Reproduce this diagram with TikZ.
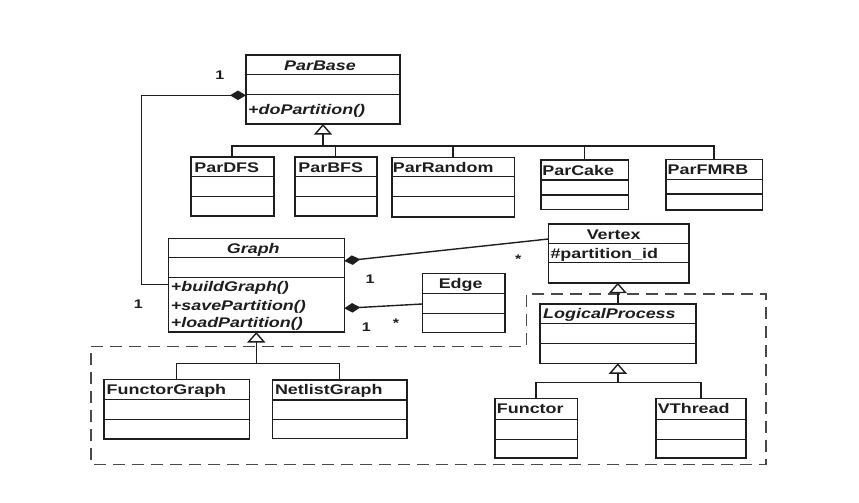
\documentclass[tikz,border=0pt]{standalone}
\usepackage{fontspec}
\setmainfont[FakeStretch=1.28]{Liberation Sans}
\usetikzlibrary{arrows.meta,calc}
\definecolor{ink}{HTML}{1E1E1E}
\definecolor{dashgray}{HTML}{4A4A4A}

% class box: name, x1, y1, x2, y2, first separator y, second separator y
\newcommand\umlclass[7]{%
  \node[cbox, anchor=north west,
        minimum width={(#4-#2)*1pt}, minimum height={(#5-#3)*1pt}] (#1) at (#2,#3) {};
  \draw[cline] (#1.west |- 0,#6) -- (#1.east |- 0,#6);
  \draw[cline] (#1.west |- 0,#7) -- (#1.east |- 0,#7);
}

\begin{document}
\begin{tikzpicture}[x=1pt,y=-1pt,
  cbox/.style={rectangle, draw=ink, line width=1.6pt, fill=white, inner sep=0pt, outer sep=0pt},
  cline/.style={draw=ink, line width=1.5pt},
  ctext/.style={inner sep=0pt, text=ink, font=\fontsize{14}{16}\selectfont\bfseries},
  mult/.style={inner sep=0pt, text=ink, font=\fontsize{12.5}{14}\selectfont\bfseries, anchor=base},
  inherit/.style={draw=ink, line width=1.4pt, -{Triangle[length=10.5pt, width=18pt, fill=white]}},
  compose/.style={draw=ink, line width=1.4pt, {Diamond[length=16pt, width=9.5pt, fill=ink]}-},
  group/.style={draw=dashgray, line width=1.5pt, dash pattern=on 12pt off 7pt}
]
\useasboundingbox (0,0) rectangle (859,503);

% package boundary
\draw[group] (91,346.7) -- (526.7,346.7) -- (526.7,294) -- (766,294)
  -- (766,464.3) -- (91,464.3) -- cycle;

% partitioner hierarchy
\umlclass{pbase}{246}{55}{400}{124}{74.3}{94.3}
\node[ctext, anchor=base] (pbase-t) at ($(pbase.north)+(-3,15.7)$) {\itshape ParBase};
\node[ctext, anchor=base west] (pbase-o) at ($(pbase.north west)+(2,59)$) {\itshape +doPartition()};

\umlclass{pdfs}{190.7}{156.7}{273.7}{216}{176.7}{196.7}
\node[ctext, anchor=base west] (pdfs-t) at ($(pdfs.north west)+(3.5,15.5)$) {ParDFS};
\umlclass{pbfs}{294.7}{156.7}{376.7}{216}{176.7}{196.7}
\node[ctext, anchor=base west] (pbfs-t) at ($(pbfs.north west)+(3.5,15.5)$) {ParBFS};
\umlclass{prand}{391.7}{157.3}{514.3}{216.7}{176.7}{196.7}
\node[ctext, anchor=base west] (prand-t) at ($(prand.north west)+(1,15.5)$) {ParRandom};
\umlclass{pcake}{540.7}{160}{628.3}{209.3}{180}{195}
\node[ctext, anchor=base west] (pcake-t) at ($(pcake.north west)+(1.5,15.5)$) {ParCake};
\umlclass{pfmrb}{666}{159.3}{762.3}{210}{179.3}{194}
\node[ctext, anchor=base west] (pfmrb-t) at ($(pfmrb.north west)+(1.5,15.5)$) {ParFMRB};

% graph hierarchy
\umlclass{graph}{168.3}{238.3}{344.3}{332}{257.7}{277.7}
\node[ctext, anchor=base] (graph-t) at ($(graph.north)+(-3,15.5)$) {\itshape Graph};
\node[ctext, anchor=base west] (graph-o1) at ($(graph.north west)+(2.4,53.4)$) {\itshape +buildGraph()};
\node[ctext, anchor=base west] (graph-o2) at ($(graph.north west)+(2.4,71.7)$) {\itshape +savePartition()};
\node[ctext, anchor=base west] (graph-o3) at ($(graph.north west)+(2.4,89)$) {\itshape +loadPartition()};

\umlclass{fgraph}{104}{379.3}{249.3}{439}{399.3}{419.3}
\node[ctext, anchor=base west] (fgraph-t) at ($(fgraph.north west)+(2.5,15)$) {FunctorGraph};
\umlclass{ngraph}{272.3}{380}{406.7}{438.3}{400}{419.5}
\node[ctext, anchor=base west] (ngraph-t) at ($(ngraph.north west)+(2.5,14.5)$) {NetlistGraph};

% vertices and edges
\umlclass{vertex}{548.3}{224}{689}{282.7}{243.3}{262.7}
\node[ctext, anchor=base] (vertex-t) at ($(vertex.north)+(-5,15)$) {Vertex};
\node[ctext, anchor=base west] (vertex-a) at ($(vertex.north west)+(2,34.3)$) {\#partition\_id};

\umlclass{edge}{422.3}{273.3}{505}{332.3}{293.3}{313.3}
\node[ctext, anchor=base] (edge-t) at ($(edge.north)+(-3,15)$) {Edge};

\umlclass{lp}{540}{304}{695.7}{363.3}{323.3}{343.3}
\node[ctext, anchor=base west] (lp-t) at ($(lp.north west)+(3,14.3)$) {\itshape LogicalProcess};

\umlclass{functor}{495}{398.3}{577.3}{457.7}{419.3}{439.3}
\node[ctext, anchor=base west] (functor-t) at ($(functor.north west)+(1.7,15)$) {Functor};
\umlclass{vthread}{656}{398.3}{745.7}{457.7}{419.3}{439.3}
\node[ctext, anchor=base west] (vthread-t) at ($(vthread.north west)+(1.7,15)$) {VThread};

% generalisation: partitioners
\coordinate (pbus) at (pbase.south |- 0,146);
\draw[inherit] (pbus) -- (pbase.south);
\draw[cline] (pdfs.north) |- (pbus) -| (pfmrb.north);
\draw[cline] (pbfs.north) -- (pbfs.north |- pbus);
\draw[cline] (prand.north) -- (prand.north |- pbus);
\draw[cline] (pcake.north) -- (pcake.north |- pbus);

% generalisation: graphs
\coordinate (gbus) at (graph.south |- 0,363.3);
\draw[inherit] (gbus) -- (graph.south);
\draw[cline] (fgraph.north) |- (gbus) -| (ngraph.north);

% generalisation: vertices
\draw[inherit] (lp.north) -- (lp.north |- vertex.south);
\coordinate (lbus) at (lp.south |- 0,382.7);
\draw[inherit] (lbus) -- (lp.south);
\draw[cline] (functor.north) |- (lbus) -| (vthread.north);

% compositions
\draw[compose] ($(pbase.north west)+(0,40.3)$) -| (141.7,200) |- ($(graph.north west)+(0,46)$);
\draw[compose] ($(graph.north east)+(0,22.7)$) -- ($(vertex.north west)+(0,15)$);
\draw[compose] ($(graph.north east)+(0,70)$) -- ($(edge.north west)+(0,30.7)$);

% multiplicities
\node[mult] (m-pbase) at (219.7,80) {1};
\node[mult] (m-graph) at (138.3,308.3) {1};
\node[mult] (m-gv) at (370,283.3) {1};
\node[mult] (m-vertex) at (518.3,263.5) {*};
\node[mult] (m-ge) at (366.3,331) {1};
\node[mult] (m-edge) at (396,327.5) {*};
\end{tikzpicture}
\end{document}
